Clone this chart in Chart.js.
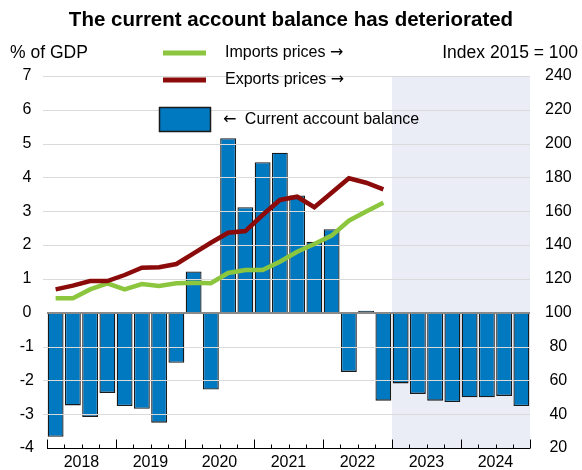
<!DOCTYPE html>
<html>
<head>
<meta charset="utf-8">
<script src="https://cdn.jsdelivr.net/npm/chart.js@4.4.1/dist/chart.umd.min.js"></script>
<style>
    html, body { margin: 0; padding: 0; background: #fff; }
</style>
</head>
<body>
<canvas id="balanceChart" width="582" height="470"></canvas>
<script>
// Trimestres (eje x)
const trimestres = [
    '2018-Q1', '2018-Q2', '2018-Q3', '2018-Q4',
    '2019-Q1', '2019-Q2', '2019-Q3', '2019-Q4',
    '2020-Q1', '2020-Q2', '2020-Q3', '2020-Q4',
    '2021-Q1', '2021-Q2', '2021-Q3', '2021-Q4',
    '2022-Q1', '2022-Q2', '2022-Q3', '2022-Q4',
    '2023-Q1', '2023-Q2', '2023-Q3', '2023-Q4',
    '2024-Q1', '2024-Q2', '2024-Q3', '2024-Q4'
];
const inicioPronostico = '2023-Q1';

// Saldo en cuenta corriente, % del PIB
const saldoCuentaCorriente = [
    -3.67, -2.74, -3.08, -2.37,
    -2.76, -2.84, -3.25, -1.48,
     1.22, -2.27,  5.16,  3.12,
     4.45,  4.73,  3.47,  2.10,
     2.47, -1.75,  0.06, -2.60,
    -2.09, -2.40, -2.60, -2.64,
    -2.50, -2.50, -2.46, -2.76
];

// Índices de precios, 2015 = 100
const preciosImportaciones = [
    108.5, 108.5, 113.8, 117.4,
    113.8, 117.0, 115.8, 117.4,
    117.8, 117.4, 123.5, 125.3,
    125.3, 130.2, 136.1, 140.6,
    145.6, 154.4, 159.8, 165.1
];
const preciosExportaciones = [
    113.8, 116.0, 118.7, 118.7,
    122.3, 126.6, 126.9, 128.8,
    135.1, 141.4, 147.3, 148.3,
    157.8, 166.7, 168.6, 162.4,
    171.0, 179.5, 176.9, 173.0
];

const FUENTE = "'Liberation Sans', Arial, sans-serif";
const FUENTE_FLECHAS = "'DejaVu Sans', sans-serif";
Chart.defaults.font.family = FUENTE;
Chart.defaults.font.size = 16;
Chart.defaults.color = '#000';

// Ancho fijo de los ejes verticales, sin margen extra arriba/abajo
function ejeVertical(ancho) {
    return (escala) => {
        escala.width = ancho;
        escala.paddingTop = 0;
        escala.paddingBottom = 0;
    };
}

// Escribe un texto usando otra fuente para las flechas
function textoConFlechas(ctx, texto, x, y) {
    for (const trozo of texto.split(/([\u2190\u2192])/)) {
        if (!trozo) continue;
        const esFlecha = /[\u2190\u2192]/.test(trozo);
        ctx.font = '16px ' + (esFlecha ? FUENTE_FLECHAS : FUENTE);
        ctx.fillText(trozo, x, y);
        x += ctx.measureText(trozo).width + (esFlecha ? 4 : 0);
    }
}

// ========== PLUGINS ==========
// Zona sombreada de proyección
const sombraPronostico = {
    id: 'sombraPronostico',
    beforeDatasetsDraw(chart) {
        const { ctx, chartArea, scales: { x } } = chart;
        const idx = trimestres.indexOf(inicioPronostico);
        const x0 = (x.getPixelForValue(idx - 1) + x.getPixelForValue(idx)) / 2;
        ctx.save();
        ctx.fillStyle = '#eaedf5';
        ctx.fillRect(x0, chartArea.top, chartArea.right - x0, chartArea.bottom - chartArea.top);
        ctx.restore();
    }
};

// Rejilla horizontal encima de las barras, debajo de las líneas
const rejilla = {
    id: 'rejilla',
    afterDatasetDraw(chart, args) {
        if (args.index !== 0) return;
        const { ctx, chartArea, scales: { y } } = chart;
        ctx.save();
        y.ticks.forEach(t => {
            if (t.value === y.min) return;
            const py = Math.round(y.getPixelForValue(t.value));
            ctx.beginPath();
            if (t.value === 0) {
                ctx.strokeStyle = '#8a8a8a';
                ctx.lineWidth = 2;
                ctx.moveTo(chartArea.left, py);
                ctx.lineTo(chartArea.right, py);
            } else {
                ctx.strokeStyle = '#dadada';
                ctx.lineWidth = 1;
                ctx.moveTo(chartArea.left - 4, py + 0.5);
                ctx.lineTo(chartArea.right, py + 0.5);
            }
            ctx.stroke();
        });
        ctx.restore();
    }
};

// Eje inferior con marcas de trimestre y de año
const marcasEje = {
    id: 'marcasEje',
    afterDatasetsDraw(chart) {
        const { ctx, chartArea, scales: { x } } = chart;
        const yb = Math.round(chartArea.bottom) + 0.5;
        ctx.save();
        ctx.strokeStyle = '#000';
        ctx.lineWidth = 1;
        ctx.beginPath();
        ctx.moveTo(chartArea.left, yb);
        ctx.lineTo(chartArea.right, yb);
        for (let i = 0; i <= trimestres.length; i++) {
            const px = Math.round(x.getPixelForValue(i - 0.5)) + 0.5;
            const largo = i % 4 === 0 ? 9 : 4;
            ctx.moveTo(px, yb);
            ctx.lineTo(px, yb - largo);
        }
        ctx.stroke();
        ctx.restore();
    }
};

// Títulos de ejes y leyenda
const leyenda = {
    id: 'leyenda',
    afterDraw(chart) {
        const { ctx } = chart;
        const ds = chart.data.datasets;
        ctx.save();
        ctx.font = '17.5px ' + FUENTE;
        ctx.fillStyle = '#000';
        ctx.textBaseline = 'middle';

        ctx.textAlign = 'left';
        ctx.fillText('% of GDP', 10, 53.5);
        ctx.textAlign = 'right';
        ctx.fillText('Index 2015 = 100', 578, 53.5);

        ctx.textAlign = 'left';
        [[ds[1], 53], [ds[2], 80]].forEach(([d, ly]) => {
            ctx.fillStyle = d.borderColor;
            ctx.fillRect(163, ly - 2.5, 43, 5);
            ctx.fillStyle = '#000';
            textoConFlechas(ctx, d.label, 225, ly);
        });

        ctx.fillStyle = ds[0].backgroundColor;
        ctx.fillRect(159.5, 107.5, 51, 24);
        ctx.strokeStyle = ds[0].borderColor;
        ctx.lineWidth = 1.5;
        ctx.strokeRect(159.5, 107.5, 51, 24);
        ctx.fillStyle = '#000';
        textoConFlechas(ctx, ds[0].label, 223, 119.5);
        ctx.restore();
    }
};

// ========== GRÁFICO ==========
const ctx = document.getElementById('balanceChart');

new Chart(ctx, {
    type: 'bar',
    data: {
        labels: trimestres,
        datasets: [
            {
                type: 'bar',
                label: '\u2190 Current account balance',
                data: saldoCuentaCorriente,
                backgroundColor: '#0079c1',
                borderColor: '#1a1a1a',
                borderWidth: 1.3,
                barPercentage: 0.92,
                categoryPercentage: 1,
                yAxisID: 'y',
                order: 2
            },
            {
                type: 'line',
                label: 'Imports prices \u2192',
                data: preciosImportaciones,
                borderColor: '#8cc63e',
                borderWidth: 4.5,
                pointRadius: 0,
                tension: 0,
                fill: false,
                yAxisID: 'y2',
                order: 1
            },
            {
                type: 'line',
                label: 'Exports prices \u2192',
                data: preciosExportaciones,
                borderColor: '#8b0a0a',
                borderWidth: 4.5,
                pointRadius: 0,
                tension: 0,
                fill: false,
                yAxisID: 'y2',
                order: 0
            }
        ]
    },
    options: {
        responsive: false,
        animation: false,
        devicePixelRatio: 1,
        layout: { padding: 0 },
        plugins: {
            legend: { display: false },
            tooltip: { enabled: false },
            title: {
                display: true,
                text: 'The current account balance has deteriorated',
                font: { size: 20.5, weight: 'bold' },
                color: '#000',
                padding: { top: 8, bottom: 43.4 }
            }
        },
        scales: {
            x: {
                grid: { display: false, drawTicks: false },
                border: { display: false },
                ticks: {
                    autoSkip: false,
                    maxRotation: 0,
                    padding: 5,
                    labelOffset: 8.6,
                    callback: (valor, i) => i % 4 === 1 ? trimestres[i].slice(0, 4) : ''
                },
                afterFit: (escala) => { escala.height = 22; }
            },
            y: {
                position: 'left',
                min: -4,
                max: 7,
                grid: { display: false, drawTicks: false },
                border: { display: false },
                ticks: { stepSize: 1, padding: 13, crossAlign: 'center' },
                afterFit: ejeVertical(47)
            },
            y2: {
                position: 'right',
                min: 20,
                max: 240,
                grid: { display: false, drawTicks: false },
                border: { display: false },
                ticks: { stepSize: 20, padding: 15, crossAlign: 'center' },
                afterFit: ejeVertical(52)
            }
        }
    },
    plugins: [sombraPronostico, rejilla, marcasEje, leyenda]
});
</script>
</body>
</html>
